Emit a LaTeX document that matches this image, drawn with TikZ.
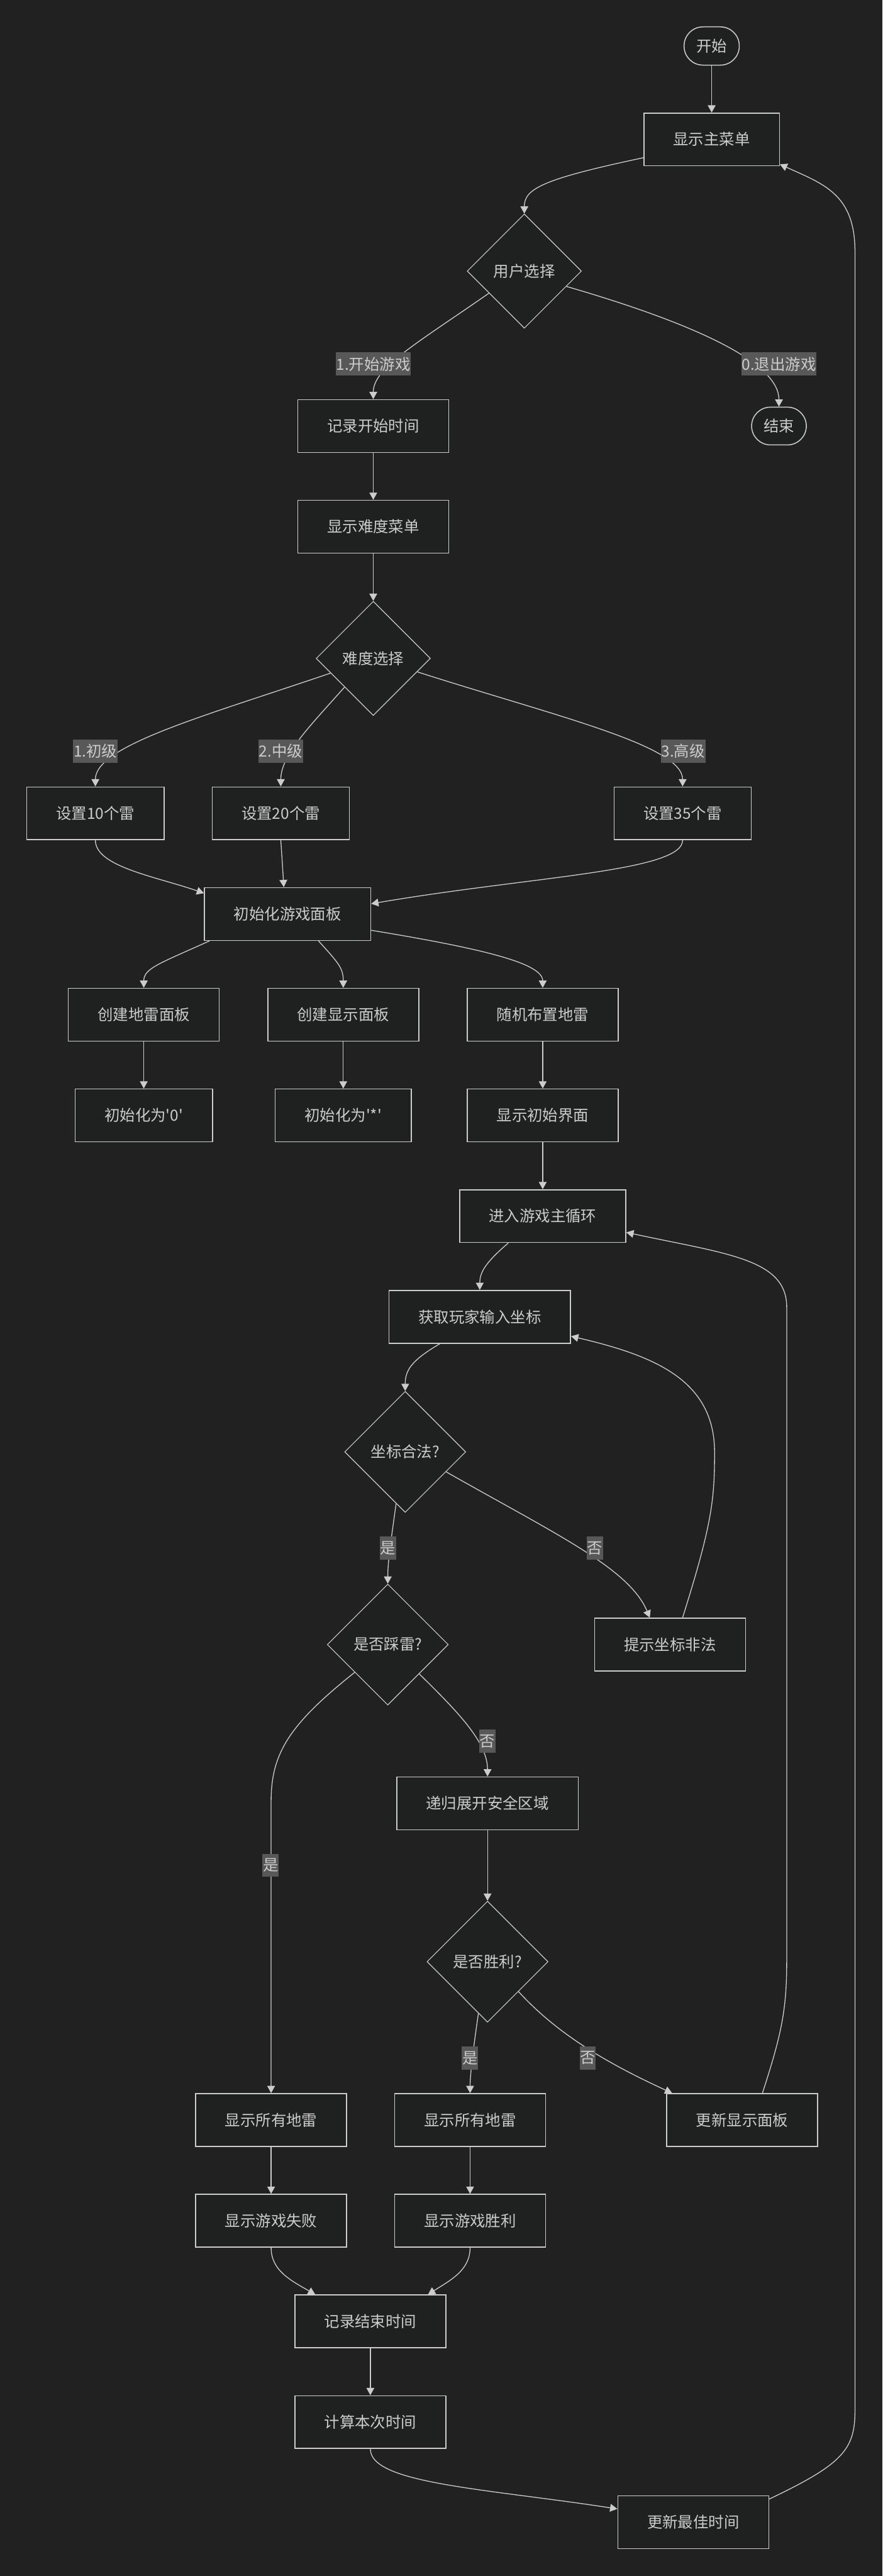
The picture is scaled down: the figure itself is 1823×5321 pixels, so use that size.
\documentclass[tikz,border=0pt]{standalone}
\usepackage{fontspec}
\setmainfont{Noto Sans CJK SC}
\usepackage{tikz}
\usetikzlibrary{arrows.meta,shapes.geometric}
\definecolor{fondo}{HTML}{212121}
\definecolor{caja}{HTML}{1F2020}
\definecolor{tinta}{HTML}{CCCCCC}
\definecolor{etiq}{HTML}{585858}
\tikzset{
  proc/.style={draw=tinta,fill=caja,line width=2pt,inner xsep=60.75pt,inner ysep=0pt,minimum height=109pt,text=tinta},
  term/.style={draw=tinta,fill=caja,line width=2pt,rounded corners=39pt,minimum width=114pt,minimum height=79pt,inner sep=0pt,text=tinta},
  decision/.style={shape=diamond,draw=tinta,fill=caja,line width=1.5pt,inner sep=0pt,minimum width=#1,minimum height=#1,text=tinta},
  decision/.default=236pt,
  flujo/.style={draw=tinta,line width=1.7pt,-{Triangle[length=15pt,width=16pt]}},
  etiqueta/.style={fill=etiq,text=tinta,inner xsep=1pt,inner ysep=0pt,minimum height=48pt},
}
\begin{document}
\begin{tikzpicture}[x=1pt,y=-1pt,font=\fontsize{31.7pt}{38pt}\selectfont]
\fill[fondo] (0,0) rectangle (1823,5321);
\useasboundingbox (0,0) rectangle (1823,5321);
\node[term] (start) at (1470,95) {开始};
\node[proc] (menu) at (1470,288) {显示主菜单};
\node[decision] (choice) at (1083,560) {用户选择};
\node[proc] (recStart) at (771,880) {记录开始时间};
\node[term,minimum width=113pt,minimum height=78pt] (finish) at (1609,880) {结束};
\node[proc] (diffMenu) at (771,1088) {显示难度菜单};
\node[decision] (diff) at (771,1360) {难度选择};
\node[proc] (set10) at (197,1680) {设置10个雷};
\node[proc] (set20) at (580,1680) {设置20个雷};
\node[proc] (set35) at (1410,1680) {设置35个雷};
\node[proc] (initBoard) at (594,1888) {初始化游戏面板};
\node[proc] (mineBoard) at (297,2096) {创建地雷面板};
\node[proc] (showBoard) at (709,2096) {创建显示面板};
\node[proc] (placeMines) at (1121,2096) {随机布置地雷};
\node[proc] (initZero) at (297,2304) {初始化为\textquotesingle0\textquotesingle};
\node[proc] (initStar) at (709,2304) {初始化为\textquotesingle*\textquotesingle};
\node[proc] (showInit) at (1121,2304) {显示初始界面};
\node[proc] (mainLoop) at (1121,2512) {进入游戏主循环};
\node[proc] (getInput) at (991,2720) {获取玩家输入坐标};
\node[decision=250pt] (valid) at (837,2999) {坐标合法?};
\node[decision=250pt] (mine) at (801,3397) {是否踩雷?};
\node[proc] (invalid) at (1384,3397) {提示坐标非法};
\node[proc] (expand) at (1007,3725) {递归展开安全区域};
\node[decision=250pt] (win) at (1007,4052) {是否胜利?};
\node[proc] (revealL) at (560,4379) {显示所有地雷};
\node[proc] (revealR) at (971,4379) {显示所有地雷};
\node[proc] (refresh) at (1533,4379) {更新显示面板};
\node[proc] (lose) at (560,4587) {显示游戏失败};
\node[proc] (winMsg) at (971,4587) {显示游戏胜利};
\node[proc] (recEnd) at (765,4795) {记录结束时间};
\node[proc] (calc) at (765,5003) {计算本次时间};
\node[proc] (best) at (1432,5210) {更新最佳时间};
\draw[flujo] (start) -- (menu);
\draw[flujo] (menu.195) .. controls (1120,370) and (1083,390) .. (choice.north);
\draw[flujo] (choice.212.6) .. controls (860,710) and (771,760) .. (recStart.north);
\draw[flujo] (choice.-20) .. controls (1440,670) and (1609,750) .. (finish.north);
\draw[flujo] (recStart) -- (diffMenu);
\draw[flujo] (diffMenu) -- (diff);
\draw[flujo] (diff.199) .. controls (420,1480) and (197,1540) .. (set10.north);
\draw[flujo] (diff.225) .. controls (640,1500) and (580,1560) .. (set20.north);
\draw[flujo] (diff.-17) .. controls (1150,1480) and (1410,1540) .. (set35.north);
\draw[flujo] (set10.south) .. controls (197,1790) and (320,1810) .. (initBoard.166);
\draw[flujo] (set20.south) .. controls (583,1780) .. (initBoard.98);
\draw[flujo] (set35.south) .. controls (1410,1800) and (1100,1810) .. (initBoard.7.6);
\draw[flujo] (initBoard.199) .. controls (330,1990) and (297,2000) .. (mineBoard.north);
\draw[flujo] (initBoard.-41.5) .. controls (700,1990) and (709,2000) .. (showBoard.north);
\draw[flujo] (initBoard.-11.2) .. controls (1000,1960) and (1121,1990) .. (placeMines.north);
\draw[flujo] (mineBoard) -- (initZero);
\draw[flujo] (showBoard) -- (initStar);
\draw[flujo] (placeMines) -- (showInit);
\draw[flujo] (showInit) -- (mainLoop);
\draw[flujo] (mainLoop.218.5) .. controls (1000,2610) and (991,2630) .. (getInput.north);
\draw[flujo] (getInput.214) .. controls (850,2810) and (837,2830) .. (valid.north);
\draw[flujo] (valid.260.5) .. controls (805,3200) and (801,3230) .. (mine.north);
\draw[flujo] (valid.-26.6) .. controls (1150,3170) and (1300,3240) .. (invalid.127.9);
\draw[flujo] (invalid.65.2) .. controls (1470,3150) and (1476,3100) .. (1476,3000) .. controls (1476,2850) and (1350,2800) .. (getInput.-12.5);
\draw[flujo] (mine.220) .. controls (600,3560) and (560,3620) .. (560,3720) -- (revealL.north);
\draw[flujo] (mine.-43.6) .. controls (950,3540) and (1007,3600) .. (expand.north);
\draw[flujo] (expand) -- (win);
\draw[flujo] (win.260.5) .. controls (975,4250) and (971,4290) .. (revealR.north);
\draw[flujo] (win.-44) .. controls (1150,4200) and (1250,4260) .. (refresh.159.3);
\draw[flujo] (refresh.53.5) .. controls (1615,4200) and (1625,4150) .. (1625,4050) -- (1625,2700) .. controls (1625,2600) and (1500,2590) .. (mainLoop.-11.8);
\draw[flujo] (revealL) -- (lose);
\draw[flujo] (revealR) -- (winMsg);
\draw[flujo] (lose.south) .. controls (560,4690) and (600,4710) .. (recEnd.154.6);
\draw[flujo] (winMsg.south) .. controls (971,4690) and (930,4710) .. (recEnd.25.4);
\draw[flujo] (recEnd) -- (calc);
\draw[flujo] (calc.south) .. controls (765,5130) and (1000,5140) .. (best.170.9);
\draw[flujo] (best.17) .. controls (1740,5090) and (1766,5060) .. (1766,4980) -- (1766,520) .. controls (1766,400) and (1700,380) .. (menu.-20.4);
\node[etiqueta] (lblStart) at (771,752) {1.开始游戏};
\node[etiqueta] (lblQuit) at (1609,752) {0.退出游戏};
\node[etiqueta] (lblEasy) at (197,1552) {1.初级};
\node[etiqueta] (lblMid) at (580,1552) {2.中级};
\node[etiqueta] (lblHard) at (1411,1552) {3.高级};
\node[etiqueta] (lblValidY) at (801,3198) {是};
\node[etiqueta] (lblValidN) at (1229,3198) {否};
\node[etiqueta] (lblMineY) at (559,3853) {是};
\node[etiqueta] (lblMineN) at (1007,3597) {否};
\node[etiqueta] (lblWinY) at (971,4251) {是};
\node[etiqueta] (lblWinN) at (1214,4251) {否};
\end{tikzpicture}
\end{document}
